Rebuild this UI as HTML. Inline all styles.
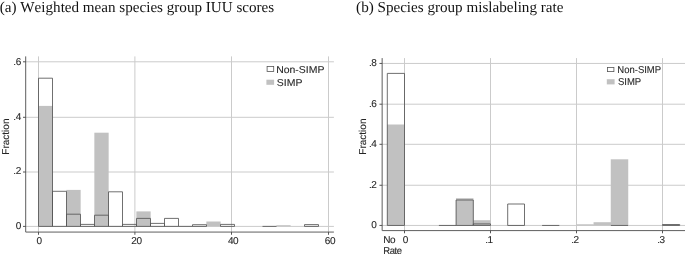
<!DOCTYPE html><html><head><meta charset="utf-8"><title>fig</title><style>
html,body{margin:0;padding:0;background:#fff}svg{display:block}
.t{font-family:"Liberation Serif",serif;font-size:15.12px;fill:#111;font-kerning:none;text-rendering:geometricPrecision}
.s{font-family:"Liberation Sans",sans-serif;font-size:10px;fill:#262626;stroke:#262626;stroke-width:0.1px;text-rendering:geometricPrecision}
.e{text-anchor:end}.m{text-anchor:middle}.k{letter-spacing:-0.5px}
</style></head><body>
<svg width="685" height="254" viewBox="0 0 685 254">
<rect width="685" height="254" fill="#fff"/>
<text class="t" x="-0.2" y="12.4">(a) Weighted mean species group IUU scores</text>
<text class="t" x="356.1" y="12.4">(b) Species group mislabeling rate</text>
<line x1="25.70" y1="226.40" x2="333.90" y2="226.40" stroke="#cbcbcb" stroke-width="1"/>
<line x1="25.70" y1="172.00" x2="333.90" y2="172.00" stroke="#cbcbcb" stroke-width="1"/>
<line x1="25.70" y1="117.30" x2="333.90" y2="117.30" stroke="#cbcbcb" stroke-width="1"/>
<line x1="25.70" y1="61.80" x2="333.90" y2="61.80" stroke="#cbcbcb" stroke-width="1"/>
<line x1="38.50" y1="56.40" x2="38.50" y2="232.07" stroke="#cbcbcb" stroke-width="1"/>
<line x1="134.90" y1="56.40" x2="134.90" y2="232.07" stroke="#cbcbcb" stroke-width="1"/>
<line x1="231.50" y1="56.40" x2="231.50" y2="232.07" stroke="#cbcbcb" stroke-width="1"/>
<line x1="328.50" y1="56.40" x2="328.50" y2="232.07" stroke="#cbcbcb" stroke-width="1"/>
<rect x="38.35" y="105.90" width="14.30" height="120.50" fill="#c1c1c1"/>
<rect x="66.35" y="189.90" width="14.30" height="36.50" fill="#c1c1c1"/>
<rect x="94.35" y="132.70" width="14.30" height="93.70" fill="#c1c1c1"/>
<rect x="136.35" y="211.40" width="14.30" height="15.00" fill="#c1c1c1"/>
<rect x="206.35" y="221.50" width="14.30" height="4.90" fill="#c1c1c1"/>
<rect x="276.35" y="225.20" width="14.30" height="1.20" fill="#c1c1c1"/>
<rect x="38.50" y="78.20" width="14.00" height="148.20" fill="none" stroke="#565656" stroke-width="0.85" stroke-linejoin="round"/>
<rect x="52.50" y="191.30" width="14.00" height="35.10" fill="none" stroke="#565656" stroke-width="0.85" stroke-linejoin="round"/>
<rect x="66.50" y="214.20" width="14.00" height="12.20" fill="none" stroke="#565656" stroke-width="0.85" stroke-linejoin="round"/>
<rect x="80.50" y="224.40" width="14.00" height="2.00" fill="none" stroke="#565656" stroke-width="0.85" stroke-linejoin="round"/>
<rect x="94.50" y="215.20" width="14.00" height="11.20" fill="none" stroke="#565656" stroke-width="0.85" stroke-linejoin="round"/>
<rect x="108.50" y="191.80" width="14.00" height="34.60" fill="none" stroke="#565656" stroke-width="0.85" stroke-linejoin="round"/>
<rect x="122.50" y="224.40" width="14.00" height="2.00" fill="none" stroke="#565656" stroke-width="0.85" stroke-linejoin="round"/>
<rect x="136.50" y="218.40" width="14.00" height="8.00" fill="none" stroke="#565656" stroke-width="0.85" stroke-linejoin="round"/>
<rect x="150.50" y="223.40" width="14.00" height="3.00" fill="none" stroke="#565656" stroke-width="0.85" stroke-linejoin="round"/>
<rect x="164.50" y="218.40" width="14.00" height="8.00" fill="none" stroke="#565656" stroke-width="0.85" stroke-linejoin="round"/>
<line x1="178.50" y1="226.40" x2="192.50" y2="226.40" stroke="#565656" stroke-width="0.85"/>
<rect x="192.50" y="224.70" width="14.00" height="1.70" fill="none" stroke="#565656" stroke-width="0.85" stroke-linejoin="round"/>
<rect x="220.50" y="224.40" width="14.00" height="2.00" fill="none" stroke="#565656" stroke-width="0.85" stroke-linejoin="round"/>
<line x1="262.50" y1="226.40" x2="276.50" y2="226.40" stroke="#565656" stroke-width="0.85"/>
<rect x="304.50" y="224.60" width="14.00" height="1.80" fill="none" stroke="#565656" stroke-width="0.85" stroke-linejoin="round"/>
<path d="M25.70 56.40V232.07H333.90" fill="none" stroke="#5e5e5e" stroke-width="1.0" stroke-linejoin="round"/>
<line x1="23.00" y1="226.40" x2="25.70" y2="226.40" stroke="#444" stroke-width="0.9"/>
<text class="s e k" transform="translate(20.70,229.20)">0</text>
<line x1="23.00" y1="172.00" x2="25.70" y2="172.00" stroke="#444" stroke-width="0.9"/>
<text class="s e k" transform="translate(20.70,174.10)">.2</text>
<line x1="23.00" y1="117.30" x2="25.70" y2="117.30" stroke="#444" stroke-width="0.9"/>
<text class="s e k" transform="translate(20.70,119.50)">.4</text>
<line x1="23.00" y1="61.80" x2="25.70" y2="61.80" stroke="#444" stroke-width="0.9"/>
<text class="s e k" transform="translate(20.70,64.90)">.6</text>
<line x1="38.50" y1="232.07" x2="38.50" y2="234.77" stroke="#444" stroke-width="0.9"/>
<text class="s m k" transform="translate(39.10,244.10)">0</text>
<line x1="134.90" y1="232.07" x2="134.90" y2="234.77" stroke="#444" stroke-width="0.9"/>
<text class="s m k" transform="translate(136.40,244.10)">20</text>
<line x1="231.50" y1="232.07" x2="231.50" y2="234.77" stroke="#444" stroke-width="0.9"/>
<text class="s m k" transform="translate(233.10,244.10)">40</text>
<line x1="328.50" y1="232.07" x2="328.50" y2="234.77" stroke="#444" stroke-width="0.9"/>
<text class="s m k" transform="translate(329.90,244.10)">60</text>
<text class="s m" transform="translate(9.40,136.60) rotate(-90)">Fraction</text>
<rect x="267.1" y="66.4" width="6.6" height="5.0" fill="#fff" stroke="#565656" stroke-width="0.8"/>
<rect x="266.4" y="79.7" width="7.7" height="5.1" fill="#c1c1c1"/>
<text class="s" transform="translate(276.20,72.80) scale(1.045,1)">Non-SIMP</text>
<text class="s" transform="translate(276.80,85.70) scale(1.045,1)">SIMP</text>
<line x1="382.15" y1="225.45" x2="685.00" y2="225.45" stroke="#cbcbcb" stroke-width="1"/>
<line x1="382.15" y1="185.26" x2="685.00" y2="185.26" stroke="#cbcbcb" stroke-width="1"/>
<line x1="382.15" y1="144.30" x2="685.00" y2="144.30" stroke="#cbcbcb" stroke-width="1"/>
<line x1="382.15" y1="104.20" x2="685.00" y2="104.20" stroke="#cbcbcb" stroke-width="1"/>
<line x1="382.15" y1="63.45" x2="685.00" y2="63.45" stroke="#cbcbcb" stroke-width="1"/>
<line x1="404.50" y1="58.10" x2="404.50" y2="230.60" stroke="#cbcbcb" stroke-width="1"/>
<line x1="490.50" y1="58.10" x2="490.50" y2="230.60" stroke="#cbcbcb" stroke-width="1"/>
<line x1="576.50" y1="58.10" x2="576.50" y2="230.60" stroke="#cbcbcb" stroke-width="1"/>
<line x1="662.50" y1="58.10" x2="662.50" y2="230.60" stroke="#cbcbcb" stroke-width="1"/>
<rect x="387.15" y="124.50" width="17.50" height="100.95" fill="#c1c1c1"/>
<rect x="455.95" y="198.20" width="17.50" height="27.25" fill="#c1c1c1"/>
<rect x="473.15" y="220.20" width="17.50" height="5.25" fill="#c1c1c1"/>
<rect x="576.35" y="224.30" width="17.50" height="1.15" fill="#c1c1c1"/>
<rect x="593.55" y="222.20" width="17.50" height="3.25" fill="#c1c1c1"/>
<rect x="610.75" y="159.30" width="17.50" height="66.15" fill="#c1c1c1"/>
<rect x="387.30" y="73.40" width="17.20" height="152.05" fill="none" stroke="#565656" stroke-width="0.85" stroke-linejoin="round"/>
<line x1="438.90" y1="225.45" x2="456.10" y2="225.45" stroke="#565656" stroke-width="0.85"/>
<rect x="456.10" y="200.00" width="17.20" height="25.45" fill="none" stroke="#565656" stroke-width="0.85" stroke-linejoin="round"/>
<rect x="473.30" y="223.90" width="17.20" height="1.55" fill="none" stroke="#565656" stroke-width="0.85" stroke-linejoin="round"/>
<rect x="507.70" y="204.00" width="16.80" height="21.45" fill="none" stroke="#565656" stroke-width="0.85" stroke-linejoin="round"/>
<line x1="542.10" y1="225.45" x2="559.30" y2="225.45" stroke="#565656" stroke-width="0.85"/>
<line x1="610.90" y1="225.45" x2="628.10" y2="225.45" stroke="#565656" stroke-width="0.85"/>
<rect x="662.50" y="224.50" width="17.20" height="0.95" fill="none" stroke="#565656" stroke-width="0.85" stroke-linejoin="round"/>
<path d="M382.15 58.10V230.60H685.00" fill="none" stroke="#5e5e5e" stroke-width="1.0" stroke-linejoin="round"/>
<line x1="379.45" y1="225.45" x2="382.15" y2="225.45" stroke="#444" stroke-width="0.9"/>
<text class="s e k" transform="translate(376.40,227.70)">0</text>
<line x1="379.45" y1="185.26" x2="382.15" y2="185.26" stroke="#444" stroke-width="0.9"/>
<text class="s e k" transform="translate(376.40,187.70)">.2</text>
<line x1="379.45" y1="144.30" x2="382.15" y2="144.30" stroke="#444" stroke-width="0.9"/>
<text class="s e k" transform="translate(376.40,146.90)">.4</text>
<line x1="379.45" y1="104.20" x2="382.15" y2="104.20" stroke="#444" stroke-width="0.9"/>
<text class="s e k" transform="translate(376.40,106.60)">.6</text>
<line x1="379.45" y1="63.45" x2="382.15" y2="63.45" stroke="#444" stroke-width="0.9"/>
<text class="s e k" transform="translate(376.40,66.00)">.8</text>
<line x1="404.50" y1="230.60" x2="404.50" y2="233.30" stroke="#444" stroke-width="0.9"/>
<text class="s m k" transform="translate(405.20,243.00)">0</text>
<line x1="490.50" y1="230.60" x2="490.50" y2="233.30" stroke="#444" stroke-width="0.9"/>
<text class="s m k" transform="translate(489.00,243.00)">.1</text>
<line x1="576.50" y1="230.60" x2="576.50" y2="233.30" stroke="#444" stroke-width="0.9"/>
<text class="s m k" transform="translate(575.00,243.00)">.2</text>
<line x1="662.50" y1="230.60" x2="662.50" y2="233.30" stroke="#444" stroke-width="0.9"/>
<text class="s m k" transform="translate(661.00,243.00)">.3</text>
<text class="s k" transform="translate(383.30,243.00)">No</text>
<text class="s k" transform="translate(383.30,253.90) scale(0.95,1)">Rate</text>
<text class="s m" transform="translate(366.30,136.60) rotate(-90)">Fraction</text>
<rect x="607.5" y="67.4" width="6.4" height="4.2" fill="#fff" stroke="#565656" stroke-width="0.8"/>
<rect x="606.8" y="79.2" width="7.8" height="5.2" fill="#c1c1c1"/>
<text class="s" transform="translate(617.30,72.80) scale(0.95,1)">Non-SIMP</text>
<text class="s" transform="translate(617.90,85.40) scale(0.95,1)">SIMP</text>
</svg></body></html>
